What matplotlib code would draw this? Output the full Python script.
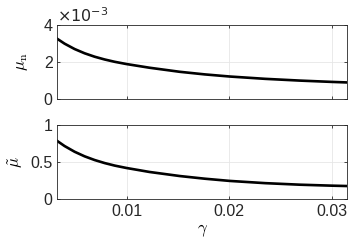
import matplotlib
matplotlib.use("Agg")
import matplotlib.pyplot as plt

# Valores
gamma = [0.00319, 0.0039, 0.00488, 0.00586, 0.00684, 0.00782, 0.0088, 0.00994,
         0.0122, 0.01516, 0.0176, 0.02005, 0.0235, 0.0269, 0.0300, 0.0315]
mu_n_e3 = [3.23, 2.97, 2.68, 2.45, 2.265, 2.115, 1.99, 1.87,
           1.67, 1.45, 1.31, 1.195, 1.07, 0.975, 0.905, 0.875]   # x 1e-3
mu_tilde = [0.78, 0.712, 0.635, 0.573, 0.523, 0.482, 0.448, 0.416,
            0.362, 0.307, 0.271, 0.241, 0.211, 0.190, 0.177, 0.172]

xticks = [0.01, 0.02, 0.03]
xlim = (0.0032, 0.0315)

plt.rcParams['font.family'] = ['Liberation Sans', 'DejaVu Sans']
plt.rcParams['mathtext.fontset'] = 'cm'
plt.rcParams['font.size'] = 10

edge = '#262626'

fig = plt.figure(figsize=(3.48, 2.46), dpi=100)
ax1 = fig.add_axes([0.165, 0.599, 0.832, 0.301])
ax2 = fig.add_axes([0.165, 0.192, 0.832, 0.301])

def style(ax):
    ax.grid(True, color='#e6e6e6', linewidth=0.6)
    ax.set_axisbelow(True)
    ax.tick_params(direction='in', length=2.5, width=0.6, colors=edge,
                   labelsize=11.5, top=True, right=True)
    for s in ax.spines.values():
        s.set_color(edge)
        s.set_linewidth(0.6)
    ax.set_xlim(*xlim)
    ax.set_xticks(xticks)

ax1.plot(gamma, mu_n_e3, color='black', linewidth=1.9, solid_joinstyle='round')
style(ax1)
ax1.set_ylim(0, 4)
ax1.set_yticks([0, 2, 4])
ax1.set_xticklabels([])
ax1.text(0.0, 1.0, r'$\times10^{-3}$', transform=ax1.transAxes,
         fontsize=11.5, color=edge, va='bottom', ha='left',
         math_fontfamily='dejavusans')
ax1.set_ylabel(r'$\mu_{\rm n}$', fontsize=12, labelpad=10)

ax2.plot(gamma, mu_tilde, color='black', linewidth=1.9, solid_joinstyle='round')
style(ax2)
ax2.set_ylim(0, 1)
ax2.set_yticks([0, 0.5, 1])
ax2.set_yticklabels(['0', '0.5', '1'])
ax2.set_xticklabels(['0.01', '0.02', '0.03'])
ax2.set_ylabel(r'$\tilde{\mu}$', fontsize=12, labelpad=4)
ax2.set_xlabel(r'$\gamma$', fontsize=12, labelpad=3)

fig.savefig('out.png', dpi=100)
